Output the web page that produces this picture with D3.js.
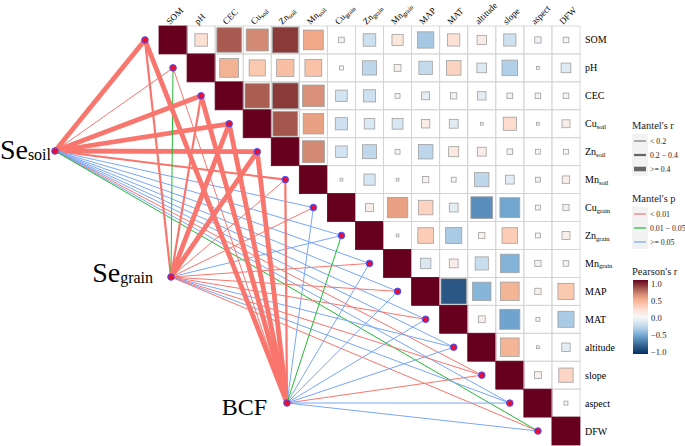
<!DOCTYPE html>
<html>
<head>
<meta charset="utf-8">
<script src="https://cdn.jsdelivr.net/npm/d3@7"></script>
<style>
  body { margin: 0; background: #fff; }
  svg { display: block; font-family: "Liberation Serif", "DejaVu Serif", serif; }
</style>
</head>
<body>
<div id="chart"></div>
<script>
// variables in the matrix (name + subscript)
const vars = ['SOM', 'pH', 'CEC', 'Cu_soil', 'Zn_soil', 'Mn_soil', 'Cu_grain', 'Zn_grain', 'Mn_grain', 'MAP', 'MAT', 'altitude', 'slope', 'aspect', 'DFW'];
const varMain = ['SOM', 'pH', 'CEC', 'Cu', 'Zn', 'Mn', 'Cu', 'Zn', 'Mn', 'MAP', 'MAT', 'altitude', 'slope', 'aspect', 'DFW'];
const varSub = ['', '', '', 'soil', 'soil', 'soil', 'grain', 'grain', 'grain', '', '', '', '', '', ''];

// Pearson's r, upper triangle: row i holds columns i+1 .. 14
const corrRows = [
  [0.2, 0.77, 0.62, 0.85, 0.5, -0.04, -0.2, 0.16, -0.34, 0.19, 0.11, -0.19, -0.05, 0.04],
  [0.45, 0.33, 0.38, 0.36, 0.02, -0.26, 0.06, -0.23, 0.27, -0.12, -0.31, 0.01, -0.12],
  [0.76, 0.85, 0.6, -0.17, -0.19, 0.03, -0.08, 0.05, -0.09, -0.04, -0.04, 0.04],
  [0.78, 0.53, -0.19, -0.14, -0.15, 0.09, -0.1, 0.01, 0.22, 0.01, 0.08],
  [0.62, -0.17, -0.25, 0.03, -0.27, 0.13, 0.1, -0.04, 0.03, 0.03],
  [0.01, -0.16, 0.01, 0.05, 0.03, -0.26, -0.1, -0.03, 0.07],
  [0.08, 0.53, 0.27, -0.1, -0.6, -0.5, 0.03, -0.05],
  [0.01, 0.31, -0.33, 0.05, 0.31, 0.03, 0.08],
  [-0.14, 0.1, -0.22, -0.44, -0.05, -0.04],
  [-0.82, -0.43, 0.44, 0.05, 0.33],
  [0.06, -0.51, 0.02, -0.33],
  [0.44, 0.01, -0.09],
  [0.06, 0.26],
  [0.02]
];

// Mantel tests: r and p of each response against the 15 variables
const seSoilR  = [0.55, 0.15, 0.5, 0.45, 0.6, 0.3, 0.1, 0.08, 0.05, 0.1, 0.06, 0.05, 0.12, 0.03, 0.1];
const seSoilP  = [0.001, 0.001, 0.001, 0.001, 0.001, 0.001, 0.3, 0.2, 0.5, 0.1, 0.4, 0.6, 0.005, 0.7, 0.03];
const seGrainR = [0.3, 0.1, 0.3, 0.45, 0.45, 0.15, 0.12, 0.08, 0.1, 0.12, 0.1, 0.06, 0.12, 0.05, 0.12];
const seGrainP = [0.001, 0.02, 0.001, 0.001, 0.001, 0.005, 0.008, 0.2, 0.006, 0.004, 0.007, 0.3, 0.006, 0.4, 0.005];
const bcfR     = [0.5, 0.15, 0.5, 0.5, 0.5, 0.3, 0.1, 0.1, 0.08, 0.06, 0.05, 0.07, 0.12, 0.05, 0.08];
const bcfP     = [0.001, 0.005, 0.001, 0.001, 0.001, 0.001, 0.2, 0.03, 0.3, 0.4, 0.5, 0.2, 0.004, 0.6, 0.3];

const rLegend = ['< 0.2', '0.2 \u2212 0.4', '>= 0.4'];
const pLegend = ['< 0.01', '0.01 \u2212 0.05', '>= 0.05'];
const colorTicks = [1, 0.5, 0, -0.5, -1];

const width = 685, height = 446;

const svg = d3.select('#chart').append('svg')
  .attr('width', width)
  .attr('height', height);

const x = d3.scaleBand().domain(vars).range([159, 580]);
const y = d3.scaleBand().domain(vars).range([26, 445]);
const bw = x.bandwidth(), bh = y.bandwidth();

const color = d3.scaleLinear()
  .domain([-1, -0.8, -0.6, -0.45, -0.3, -0.15, 0, 0.2, 0.35, 0.5, 0.6, 0.77, 0.85, 1])
  .range(['#053061', '#2e5b88', '#5a8fbd', '#7fb1d8', '#b5d1e8', '#d8e7f3', '#f7f7f7',
          '#fde0d4', '#fbc5ab', '#f0a888', '#d8907a', '#a85a50', '#8b3a3a', '#67001f']);

const pColor = p => p < 0.01 ? '#f8766d' : (p < 0.05 ? '#22bb33' : '#7aa6f7');
const rWidth = r => r < 0.2 ? 1 : (r < 0.4 ? 2.2 : 4.8);

// nodes beside the diagonal
const nodeX = v => x(v) - bw / 2;
const nodeY = v => y(v) + bh / 2;

const sources = [
  { main: 'Se', sub: 'soil', x: 55, y: 151, r: seSoilR, p: seSoilP, tx: 51, ty: 159, size: 28 },
  { main: 'Se', sub: 'grain', x: 171, y: 277, r: seGrainR, p: seGrainP, tx: 153, ty: 282, size: 28 },
  { main: 'BCF', sub: '', x: 287, y: 403, r: bcfR, p: bcfP, tx: 267, ty: 415, size: 24 }
];

// links
const links = [];
sources.forEach(s => vars.forEach((v, i) => links.push({ s, v, r: s.r[i], p: s.p[i] })));

svg.append('g').selectAll('line')
  .data(links)
  .enter()
  .append('line')
  .attr('x1', d => d.s.x)
  .attr('y1', d => d.s.y)
  .attr('x2', d => nodeX(d.v))
  .attr('y2', d => nodeY(d.v))
  .attr('stroke', d => pColor(d.p))
  .attr('stroke-width', d => rWidth(d.r));

// matrix cells (upper triangle)
const cells = [];
vars.forEach((a, i) => vars.forEach((b, j) => {
  if (j >= i) cells.push({ row: a, col: b, r: j === i ? 1 : corrRows[i][j - i - 1], diag: j === i });
}));

const grid = svg.append('g');
grid.selectAll('rect.cell')
  .data(cells)
  .enter()
  .append('rect')
  .attr('class', 'cell')
  .attr('x', d => x(d.col))
  .attr('y', d => y(d.row))
  .attr('width', bw)
  .attr('height', bh)
  .attr('fill', d => d.diag ? color(1) : 'none')
  .attr('stroke', d => d.diag ? color(1) : '#d2d2d2')
  .attr('stroke-width', 0.8);

grid.selectAll('rect.sq')
  .data(cells.filter(d => !d.diag))
  .enter()
  .append('rect')
  .attr('class', 'sq')
  .attr('x', d => x(d.col) + bw / 2 - bw * Math.sqrt(Math.abs(d.r)) / 2)
  .attr('y', d => y(d.row) + bh / 2 - bh * Math.sqrt(Math.abs(d.r)) / 2)
  .attr('width', d => bw * Math.sqrt(Math.abs(d.r)))
  .attr('height', d => bh * Math.sqrt(Math.abs(d.r)))
  .attr('fill', d => color(d.r))
  .attr('stroke', '#a0a0a0')
  .attr('stroke-width', 0.8);

// column labels
const colLab = svg.append('g').selectAll('text')
  .data(vars)
  .enter()
  .append('text')
  .attr('transform', v => `translate(${x(v) + bw / 2 - 3},25) rotate(-45)`)
  .attr('font-size', 9)
  .text((v, i) => varMain[i]);
colLab.append('tspan').attr('font-size', 6.5).attr('dy', 1.5).text((v, i) => varSub[i]);

// row labels
const rowLab = svg.append('g').selectAll('text')
  .data(vars)
  .enter()
  .append('text')
  .attr('x', 585)
  .attr('y', v => y(v) + bh / 2 + 3.5)
  .attr('font-size', 10)
  .text((v, i) => varMain[i]);
rowLab.append('tspan').attr('font-size', 6.5).attr('dy', 1.5).text((v, i) => varSub[i]);

// nodes
svg.append('g').selectAll('circle')
  .data(vars.map(v => [nodeX(v), nodeY(v)]).concat(sources.map(s => [s.x, s.y])))
  .enter()
  .append('circle')
  .attr('cx', d => d[0])
  .attr('cy', d => d[1])
  .attr('r', 3.3)
  .attr('fill', '#e8112d')
  .attr('stroke', '#5050ff')
  .attr('stroke-width', 1);

// source labels
const srcLab = svg.append('g').selectAll('text')
  .data(sources)
  .enter()
  .append('text')
  .attr('x', d => d.tx)
  .attr('y', d => d.ty)
  .attr('text-anchor', 'end')
  .attr('font-size', d => d.size)
  .text(d => d.main);
srcLab.append('tspan').attr('font-size', 16).attr('dy', 1).text(d => d.sub);

// legends
const lg = svg.append('g').attr('font-size', 7.8).attr('fill', '#222');

lg.append('text').attr('x', 632).attr('y', 129).attr('font-size', 10.5).text("Mantel's r");
rLegend.forEach((t, i) => {
  const yy = 141 + i * 14;
  lg.append('rect').attr('x', 632).attr('y', yy - 7).attr('width', 16).attr('height', 14).attr('fill', '#f2f2f2');
  lg.append('line').attr('x1', 634).attr('x2', 646).attr('y1', yy).attr('y2', yy)
    .attr('stroke', '#666').attr('stroke-width', [1, 2.2, 4.6][i]);
  lg.append('text').attr('x', 650).attr('y', yy + 3).text(t);
});

lg.append('text').attr('x', 632).attr('y', 202).attr('font-size', 10.5).text("Mantel's p");
pLegend.forEach((t, i) => {
  const yy = 214 + i * 14;
  lg.append('rect').attr('x', 632).attr('y', yy - 7).attr('width', 16).attr('height', 14).attr('fill', '#f2f2f2');
  lg.append('line').attr('x1', 634).attr('x2', 646).attr('y1', yy).attr('y2', yy)
    .attr('stroke', pColor([0.001, 0.02, 0.5][i])).attr('stroke-width', 1.2);
  lg.append('text').attr('x', 650).attr('y', yy + 3).text(t);
});

lg.append('text').attr('x', 632).attr('y', 275).attr('font-size', 10.5).text("Pearson's r");
const cb = d3.scaleLinear().domain([-1, 1]).range([351, 283]);
const grad = svg.append('defs').append('linearGradient')
  .attr('id', 'cbar').attr('x1', 0).attr('x2', 0).attr('y1', 1).attr('y2', 0);
d3.range(-1, 1.001, 0.1).forEach(v => {
  grad.append('stop').attr('offset', (v + 1) / 2).attr('stop-color', color(v));
});
lg.append('rect').attr('x', 633).attr('y', 280).attr('width', 15).attr('height', 74).attr('fill', 'url(#cbar)');
colorTicks.forEach(v => {
  lg.append('text').attr('x', 651).attr('y', cb(v) + 3.5).attr('font-size', 8.5)
    .text(v < 0 ? '\u2212' + d3.format('.1f')(-v) : d3.format('.1f')(v));
});
</script>
</body>
</html>
